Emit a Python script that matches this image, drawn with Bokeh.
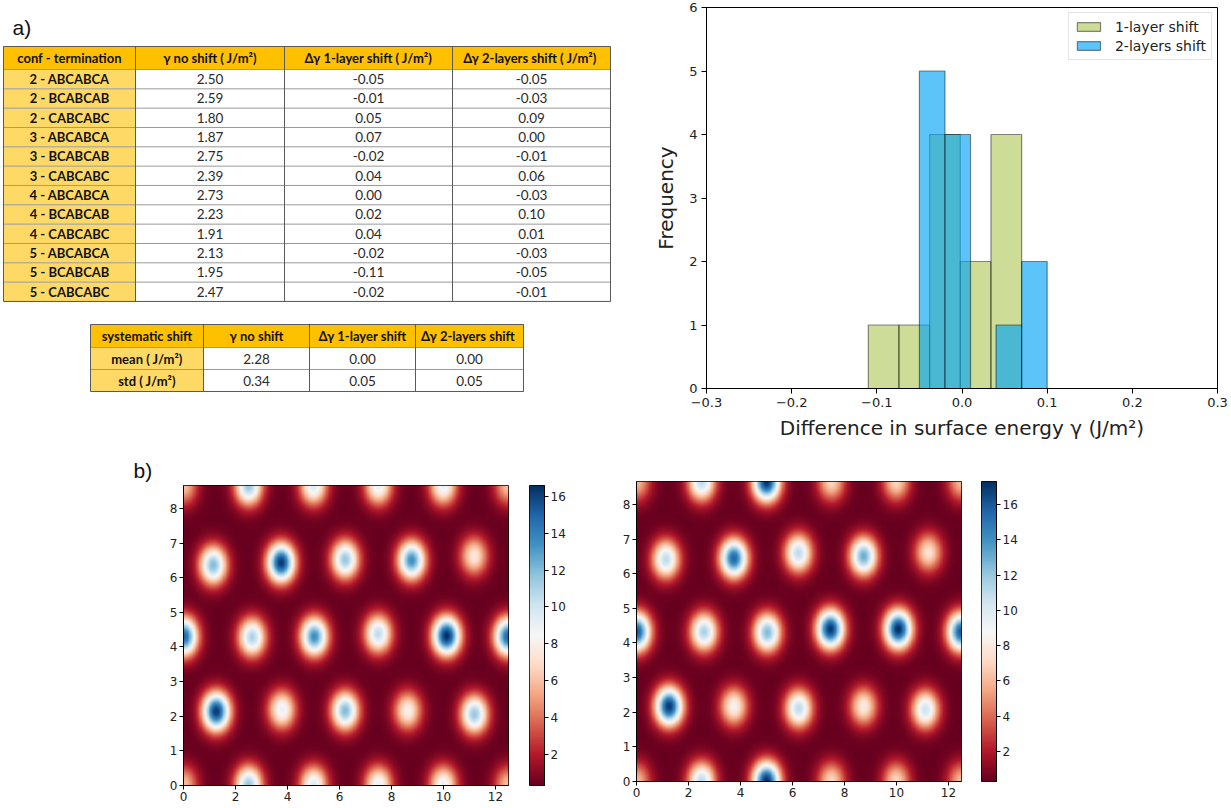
import numpy as np
from bokeh.plotting import figure
from bokeh.layouts import row, column
from bokeh.models import (Range1d, FixedTicker, CustomJSTickFormatter, LinearColorMapper,
                          Legend, LegendItem)
from bokeh.core.properties import value
from bokeh.embed import file_html
from bokeh.resources import INLINE

# ---------------- data ----------------
table_headers = ["conf - termination", "γ no shift ( J/m²)", "Δγ 1-layer shift ( J/m²)", "Δγ  2-layers shift ( J/m²)"]
conf_labels = ["2 - ABCABCA", "2 - BCABCAB", "2 - CABCABC",
               "3 - ABCABCA", "3 - BCABCAB", "3 - CABCABC",
               "4 - ABCABCA", "4 - BCABCAB", "4 - CABCABC",
               "5 - ABCABCA", "5 - BCABCAB", "5 - CABCABC"]
gamma_no_shift = [2.50, 2.59, 1.80, 1.87, 2.75, 2.39, 2.73, 2.23, 1.91, 2.13, 1.95, 2.47]
dgamma_1layer = [-0.05, -0.01, 0.05, 0.07, -0.02, 0.04, 0.00, 0.02, 0.04, -0.02, -0.11, -0.02]
dgamma_2layers = [-0.05, -0.03, 0.09, 0.00, -0.01, 0.06, -0.03, 0.10, 0.01, -0.03, -0.05, -0.01]

summary_headers = ["systematic shift", "γ no shift", "Δγ 1-layer shift", "Δγ  2-layers shift"]
summary_labels = ["mean ( J/m²)", "std ( J/m²)"]
summary_gamma = [2.28, 0.34]
summary_d1 = [0.00, 0.05]
summary_d2 = [0.00, 0.05]

hist_labels = ["1-layer shift", "2-layers shift"]
hist_xticks = [-0.3, -0.2, -0.1, 0.0, 0.1, 0.2, 0.3]
hist_yticks = [0, 1, 2, 3, 4, 5, 6]
hist_xlabel = "Difference in surface energy γ (J/m²)"
hist_ylabel = "Frequency"

# blob centres / peak values of the two surface-energy maps
mapA_x = [0.0, 2.5, 5.0, 7.5, 10.0, 12.5,
          0.0, 2.5, 5.0, 7.5, 10.0, 12.5,
          1.25, 3.78, 6.22, 8.63, 11.2,
          0.0, 2.63, 5.03, 7.49, 10.13, 12.5,
          1.13, 3.75, 6.22, 8.78, 11.19]
mapA_y = [0.0, 0.0, 0.0, 0.0, 0.0, 0.0,
          8.66, 8.66, 8.66, 8.66, 8.66, 8.66,
          2.13, 2.18, 2.15, 2.15, 2.05,
          4.30, 4.28, 4.30, 4.38, 4.32, 4.30,
          6.37, 6.44, 6.53, 6.51, 6.63]
mapA_peak = [6.0, 11.5, 9.5, 9.0, 9.0, 6.0,
             6.0, 11.5, 9.5, 9.0, 9.0, 6.0,
             16.3, 9.0, 12.0, 8.0, 11.5,
             15.0, 11.0, 13.5, 10.5, 16.6, 15.0,
             12.0, 16.3, 11.5, 13.5, 7.5]

mapB_x = [0.0, 2.5, 5.0, 7.5, 10.0, 12.5,
          0.0, 2.5, 5.0, 7.5, 10.0, 12.5,
          1.24, 3.74, 6.24, 8.74, 11.12,
          0.0, 2.59, 5.03, 7.46, 10.08, 12.5,
          1.12, 3.74, 6.23, 8.74, 11.24]
mapB_y = [0.0, 0.0, 0.0, 0.0, 0.0, 0.0,
          8.66, 8.66, 8.66, 8.66, 8.66, 8.66,
          2.16, 2.16, 2.10, 2.16, 2.07,
          4.32, 4.32, 4.30, 4.40, 4.40, 4.32,
          6.42, 6.45, 6.60, 6.51, 6.62]
mapB_peak = [6.0, 11.0, 17.2, 7.0, 7.0, 6.0,
             6.0, 11.0, 17.2, 7.0, 7.0, 6.0,
             17.0, 8.5, 11.0, 8.0, 10.5,
             16.0, 11.5, 12.5, 17.0, 17.3, 16.0,
             11.0, 15.5, 11.0, 13.0, 7.5]

map_background = 0.3
map_xmax = 12.5
map_ymax = 8.66
map_xticks = [0, 2, 4, 6, 8, 10, 12]
map_yticks = [0, 1, 2, 3, 4, 5, 6, 7, 8]
cbar_ticks = [2, 4, 6, 8, 10, 12, 14, 16]

# matplotlib RdBu nodes
rdbu_nodes = ["#67001f", "#b2182b", "#d6604d", "#f4a582", "#fddbc7", "#f7f7f7",
              "#d1e5f0", "#92c5de", "#4393c3", "#2166ac", "#053061"]


def interp_palette(nodes, n=256):
    rgb = np.array([[int(h[i:i + 2], 16) for i in (1, 3, 5)] for h in nodes], float)
    t = np.linspace(0, 1, len(nodes))
    tt = np.linspace(0, 1, n)
    out = []
    for v in tt:
        c = [np.interp(v, t, rgb[:, k]) for k in range(3)]
        out.append("#%02x%02x%02x" % tuple(int(round(x)) for x in c))
    return out


PAL = interp_palette(rdbu_nodes)

# ---------------- table figure ----------------
W1, H1 = 638, 448
pt = figure(width=W1, height=H1, x_range=Range1d(0, W1), y_range=Range1d(H1, 0),
            output_backend="svg", toolbar_location=None, frame_align=False,
            x_axis_location=None, y_axis_location=None,
            min_border_left=0, min_border_right=0, min_border_top=0, min_border_bottom=0)
pt.grid.visible = False
pt.outline_line_color = None

ORANGE = "#ffc000"
LIGHT = "#ffd966"
HLINE = "#9a9a9a"
VLINE = "#5a5a5a"
FONT = value("Lato")


def draw_table(p, cols, row_edges, headers, first_col, value_cols, fs_head, fs_val):
    nrows = len(first_col)
    p.quad(left=cols[:-1], right=cols[1:], top=[row_edges[0]] * (len(cols) - 1),
           bottom=[row_edges[1]] * (len(cols) - 1), fill_color=ORANGE, line_color=None)
    p.quad(left=[cols[0]] * nrows, right=[cols[1]] * nrows, top=row_edges[1:-1],
           bottom=row_edges[2:], fill_color=LIGHT, line_color=None)
    p.segment(x0=[cols[0]] * len(row_edges), x1=[cols[-1]] * len(row_edges),
              y0=row_edges, y1=row_edges, line_color=HLINE, line_width=1)
    p.segment(x0=cols, x1=cols, y0=[row_edges[0]] * len(cols), y1=[row_edges[-1]] * len(cols),
              line_color=VLINE, line_width=1)
    p.segment(x0=[cols[0], cols[0]], x1=[cols[-1], cols[-1]],
              y0=[row_edges[0], row_edges[-1]], y1=[row_edges[0], row_edges[-1]],
              line_color=VLINE, line_width=1)
    cx = [(cols[i] + cols[i + 1]) / 2 for i in range(len(cols) - 1)]
    hy = (row_edges[0] + row_edges[1]) / 2
    p.text(x=cx, y=[hy] * len(cx), text=headers, text_align="center", text_baseline="middle",
           text_font=FONT, text_font_size=fs_head, text_font_style="bold", text_color="#111111")
    ry = [(row_edges[i + 1] + row_edges[i + 2]) / 2 for i in range(nrows)]
    p.text(x=[cx[0]] * nrows, y=ry, text=first_col, text_align="center", text_baseline="middle",
           text_font=FONT, text_font_size=fs_head, text_font_style="bold", text_color="#111111")
    for j, vals in enumerate(value_cols):
        p.text(x=[cx[j + 1]] * nrows, y=ry, text=["%.2f" % v for v in vals],
               text_align="center", text_baseline="middle",
               text_font=FONT, text_font_size=fs_val, text_color="#2a2a2a")


cols1 = [3, 135, 284, 452, 610]
rows1 = [46, 69] + [69 + 19.33 * (i + 1) for i in range(len(conf_labels))]
draw_table(pt, cols1, rows1, table_headers, conf_labels,
           [gamma_no_shift, dgamma_1layer, dgamma_2layers], "13px", "13.5px")

cols2 = [90, 203, 309, 415, 523]
rows2 = [324, 347, 369, 391]
draw_table(pt, cols2, rows2, summary_headers, summary_labels,
           [summary_gamma, summary_d1, summary_d2], "13px", "13.5px")

pt.text(x=[12], y=[27], text=["a)"], text_font=value("Liberation Sans"), text_font_size="21px",
        text_baseline="alphabetic", text_align="left", text_color="#111111")

# ---------------- histogram ----------------
counts1, edges1 = np.histogram(dgamma_1layer, bins=5)
counts2, edges2 = np.histogram(dgamma_2layers, bins=5)

ph = figure(width=592, height=H1, x_range=Range1d(-0.3, 0.3), y_range=Range1d(0, 6),
            output_backend="svg", toolbar_location=None, frame_align=False,
            min_border_left=68, min_border_right=13, min_border_top=7, min_border_bottom=60)
ph.grid.visible = False
ph.outline_line_color = "black"
ph.outline_line_width = 1
r1 = ph.quad(left=edges1[:-1], right=edges1[1:], bottom=0, top=counts1,
             fill_color="#9bb92d", fill_alpha=0.5, line_color="black", line_alpha=0.45, line_width=1.2)
r2 = ph.quad(left=edges2[:-1], right=edges2[1:], bottom=0, top=counts2,
             fill_color="#00a2f5", fill_alpha=0.64, line_color="black", line_alpha=0.45, line_width=1.2)

ph.xaxis.ticker = FixedTicker(ticks=hist_xticks)
ph.yaxis.ticker = FixedTicker(ticks=hist_yticks)
ph.xaxis.formatter = CustomJSTickFormatter(code="return (tick < -1e-9 ? '\u2212' : '') + Math.abs(tick).toFixed(1);")
ph.xaxis.axis_label = hist_xlabel
ph.yaxis.axis_label = hist_ylabel
for ax in (ph.xaxis[0], ph.yaxis[0]):
    ax.axis_line_color = "black"
    ax.major_tick_line_color = "black"
    ax.major_tick_in = 0
    ax.major_tick_out = 5
    ax.minor_tick_line_color = None
    ax.major_label_text_font = "DejaVu Sans"
    ax.major_label_text_font_size = "13px"
    ax.major_label_text_color = "#222222"
    ax.major_label_standoff = 4
    ax.axis_label_text_font = "DejaVu Sans"
    ax.axis_label_text_font_size = "20px"
    ax.axis_label_text_font_style = "normal"
    ax.axis_label_text_color = "#222222"
ph.xaxis.axis_label_standoff = 6
ph.yaxis.axis_label_standoff = 8

legend = Legend(items=[LegendItem(label=hist_labels[0], renderers=[r1]),
                       LegendItem(label=hist_labels[1], renderers=[r2])],
                location="top_right", margin=5, padding=5, spacing=2,
                glyph_width=29, glyph_height=11, label_standoff=12, label_height=17,
                label_text_font="DejaVu Sans", label_text_font_size="14px",
                label_text_color="#222222",
                border_line_color="#cccccc", border_line_width=1,
                background_fill_color="white", background_fill_alpha=0.85)
ph.add_layout(legend)

# ---------------- heat maps ----------------
def make_field(bx, by, bp, base, sx=0.37, sy=0.39, nx=420, ny=300):
    xs = np.linspace(0, map_xmax, nx)
    ys = np.linspace(0, map_ymax, ny)
    X, Y = np.meshgrid(xs, ys)
    Z = np.full_like(X, base)
    for x0, y0, pk in zip(bx, by, bp):
        Z += (pk - base) * np.exp(-((X - x0) ** 2) / (2 * sx ** 2) - ((Y - y0) ** 2) / (2 * sy ** 2))
    return Z


H2 = 358


def style_axes(p):
    for ax in list(p.xaxis) + list(p.yaxis):
        ax.axis_line_color = "black"
        ax.major_tick_line_color = "black"
        ax.major_tick_in = 0
        ax.major_tick_out = 4
        ax.minor_tick_line_color = None
        ax.major_label_text_font = "DejaVu Sans"
        ax.major_label_text_font_size = "12px"
        ax.major_label_text_color = "#222222"
        ax.major_label_standoff = 2


def heat_map(bx, by, bp, width, mb_left, mb_right, mb_top, mb_bottom):
    Z = make_field(bx, by, bp, map_background)
    mapper = LinearColorMapper(palette=PAL, low=float(Z.min()), high=float(Z.max()))
    p = figure(width=width, height=H2, x_range=Range1d(0, map_xmax), y_range=Range1d(0, map_ymax),
               output_backend="svg", toolbar_location=None, frame_align=False,
               min_border_left=mb_left, min_border_right=mb_right,
               min_border_top=mb_top, min_border_bottom=mb_bottom)
    p.image(image=[Z], x=0, y=0, dw=map_xmax, dh=map_ymax, color_mapper=mapper)
    p.grid.visible = False
    p.outline_line_color = "black"
    p.xaxis.ticker = FixedTicker(ticks=map_xticks)
    p.yaxis.ticker = FixedTicker(ticks=map_yticks)
    style_axes(p)
    return p, mapper


def color_bar(mapper, width, mb_left, mb_right, mb_top, mb_bottom):
    lo, hi = mapper.low, mapper.high
    grad = np.linspace(lo, hi, 256).reshape(256, 1)
    p = figure(width=width, height=H2, x_range=Range1d(0, 1), y_range=Range1d(lo, hi),
               output_backend="svg", toolbar_location=None, frame_align=False,
               x_axis_location=None, y_axis_location="right",
               min_border_left=mb_left, min_border_right=mb_right,
               min_border_top=mb_top, min_border_bottom=mb_bottom)
    p.image(image=[grad], x=0, y=lo, dw=1, dh=hi - lo, color_mapper=mapper)
    p.grid.visible = False
    p.outline_line_color = "black"
    p.yaxis.ticker = FixedTicker(ticks=cbar_ticks)
    style_axes(p)
    return p


p1, m1 = heat_map(mapA_x, mapA_y, mapA_peak, 518, 183, 10, 37, 21)
c1 = color_bar(m1, 82, 11, 56, 37, 21)
p2, m2 = heat_map(mapB_x, mapB_y, mapB_peak, 371, 36, 10, 33, 25)
c2 = color_bar(m2, 259, 10, 234, 33, 25)

p1.title.text = "b)"
p1.title.align = "left"
p1.title.offset = -50
p1.title.standoff = 7
p1.title.text_font = "Liberation Sans"
p1.title.text_font_size = "21px"
p1.title.text_font_style = "normal"
p1.title.text_color = "#111111"

layout = column(row(pt, ph), row(p1, c1, p2, c2))
open("out.html", "w").write(file_html(layout, INLINE))
